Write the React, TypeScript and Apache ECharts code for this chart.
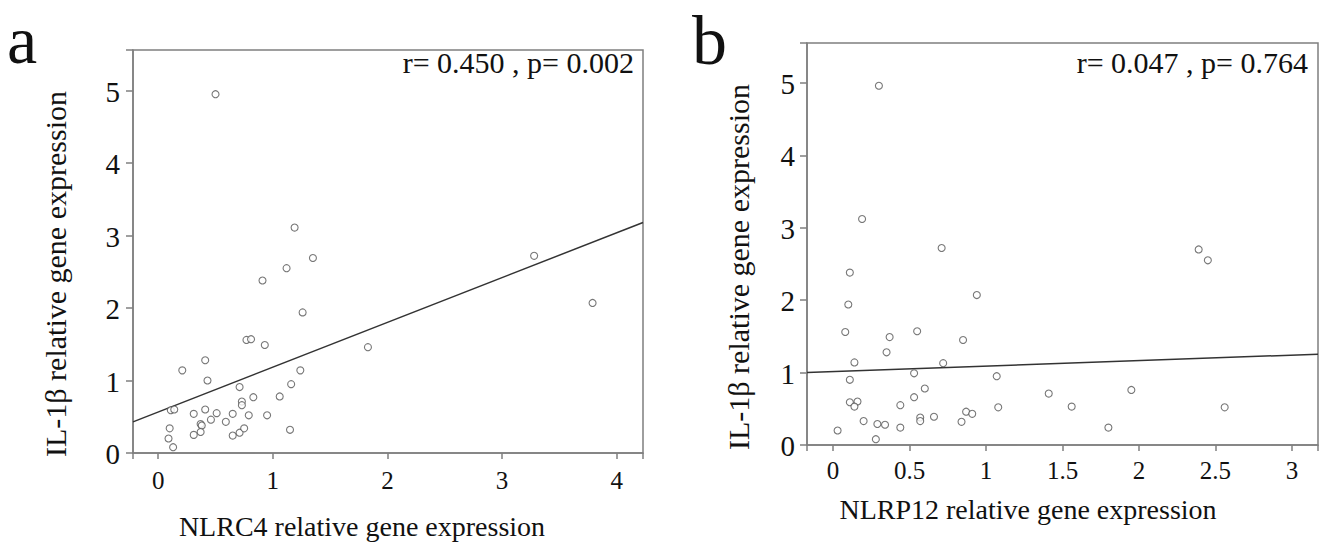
import React, { useEffect, useRef } from "react";
import * as echarts from "echarts";

// Panel a: NLRC4 vs IL-1β
const nlrc4X = [0.50, 1.19, 1.35, 1.12, 0.91, 1.26, 0.77, 0.81, 0.93, 1.83, 0.41, 0.21, 1.24, 0.43, 1.16, 0.71, 1.06, 0.83, 0.73, 0.73, 0.11, 0.14, 0.41, 0.31, 0.51, 0.65, 0.79, 0.95, 0.46, 0.59, 0.37, 0.38, 0.10, 0.37, 0.31, 0.65, 0.71, 0.75, 1.15, 0.09, 0.13, 3.28, 3.79];
const il1bA = [4.95, 3.11, 2.69, 2.55, 2.38, 1.94, 1.56, 1.57, 1.49, 1.46, 1.28, 1.14, 1.14, 1.00, 0.95, 0.91, 0.78, 0.77, 0.71, 0.66, 0.59, 0.60, 0.60, 0.54, 0.55, 0.54, 0.52, 0.52, 0.46, 0.43, 0.40, 0.38, 0.34, 0.29, 0.25, 0.24, 0.28, 0.34, 0.32, 0.20, 0.08, 2.72, 2.07];
// Panel b: NLRP12 vs IL-1β
const nlrp12X = [0.30, 0.19, 0.71, 0.11, 0.94, 0.10, 0.08, 0.55, 0.37, 0.85, 0.35, 0.14, 0.72, 0.53, 1.07, 0.11, 0.60, 0.53, 0.11, 0.16, 0.14, 0.44, 1.08, 0.66, 0.57, 0.57, 0.87, 0.91, 0.84, 0.20, 0.29, 0.34, 0.44, 0.03, 0.28, 2.39, 2.45, 1.41, 1.56, 1.95, 1.80, 2.56];
const il1bB = [4.96, 3.12, 2.72, 2.38, 2.07, 1.94, 1.56, 1.57, 1.49, 1.45, 1.28, 1.14, 1.13, 0.99, 0.95, 0.90, 0.78, 0.66, 0.59, 0.60, 0.53, 0.55, 0.52, 0.39, 0.38, 0.33, 0.46, 0.43, 0.32, 0.33, 0.29, 0.28, 0.24, 0.20, 0.08, 2.70, 2.55, 0.71, 0.53, 0.76, 0.24, 0.52];

// Fit lines (intercept, slope)
const fitA = [0.566, 0.618];
const fitB = [1.013, 0.076];

// tick values
const xTicksA = [0, 1, 2, 3, 4];
const xTicksB = [0, 0.5, 1, 1.5, 2, 2.5, 3];
const yTicks = [0, 1, 2, 3, 4, 5];

const xStepA = 1;
const xStepB = 0.5;
const yStep = 1;

const xRangeA = [-0.22, 4.23];
const xRangeB = [-0.17, 3.17];
const yRangeA = [0, 5.56];
const yRangeB = [0, 5.55];

const statsA = "r= 0.450 , p= 0.002";
const statsB = "r= 0.047 , p= 0.764";

const SERIF = "Liberation Serif";
const AXIS_COLOR = "#7f7f7f";

const GRID_A = { left: 133, top: 50, width: 510, height: 403 };
const GRID_B = { left: 807, top: 43, width: 511, height: 402 };

function App() {
  const ref = useRef<HTMLDivElement>(null);
  useEffect(() => {
    if (!ref.current) return;
    const chart = echarts.init(ref.current, null, { renderer: "svg" });
    const mkX = (gi: number, range: number[], step: number) => ({
      type: "value",
      gridIndex: gi,
      min: range[0],
      max: range[1],
      minInterval: step,
      maxInterval: step,
      axisLine: { show: true, onZero: false, lineStyle: { color: AXIS_COLOR, width: 1.5 } },
      axisTick: { show: true, length: 6, lineStyle: { color: AXIS_COLOR, width: 1.5 } },
      axisLabel: { show: false },
      splitLine: { show: false },
    });
    const mkY = (gi: number, range: number[]) => ({
      type: "value",
      gridIndex: gi,
      min: range[0],
      max: range[1],
      interval: yStep,
      axisLine: { show: true, onZero: false, lineStyle: { color: AXIS_COLOR, width: 1.5 } },
      axisTick: { show: true, length: 7, lineStyle: { color: AXIS_COLOR, width: 1.5 } },
      axisLabel: { show: false },
      splitLine: { show: false },
    });
    const pts = (xs: number[], ys: number[]) => xs.map((x, i) => [x, ys[i]]);
    const fit = (f: number[], r: number[]) => [
      [r[0], f[0] + f[1] * r[0]],
      [r[1], f[0] + f[1] * r[1]],
    ];
    const scatterStyle = {
      type: "scatter",
      symbol: "circle",
      symbolSize: 7,
      itemStyle: { color: "#fff", borderColor: "#555", borderWidth: 1.1 },
      z: 3,
    };
    const fitLine = {
      type: "line",
      symbol: "none",
      lineStyle: { color: "#333", width: 1.5 },
      z: 2,
    };
    const txt = (text: string, x: number, y: number, size: number, align: string, rot = 0) => ({
      type: "text",
      x,
      y,
      rotation: rot,
      style: {
        text,
        font: `${size}px ${SERIF}`,
        fill: "#111",
        textAlign: align,
        textVerticalAlign: "middle",
      },
    });

    // pixel position of a data value: library scale first, linear map of the same layout otherwise
    const toPx = (gi: number, x: number, y: number) => {
      try {
        const p = chart.convertToPixel({ xAxisIndex: gi, yAxisIndex: gi } as any, [x, y]) as any;
        if (p && isFinite(p[0]) && isFinite(p[1])) return [p[0], p[1]];
      } catch (e) {
        /* fall through */
      }
      const g = gi === 0 ? GRID_A : GRID_B;
      const xr = gi === 0 ? xRangeA : xRangeB;
      const yr = gi === 0 ? yRangeA : yRangeB;
      return [
        g.left + ((x - xr[0]) / (xr[1] - xr[0])) * g.width,
        g.top + g.height - ((y - yr[0]) / (yr[1] - yr[0])) * g.height,
      ];
    };

    const baseTexts = [
      txt("a", 7, 40, 68, "left"),
      txt("b", 692, 40, 70, "left"),
      txt(statsA, 634, 62, 30, "right"),
      txt(statsB, 1308, 62, 30, "right"),
      txt("NLRC4 relative gene expression", 362, 526, 28, "center"),
      txt("NLRP12 relative gene expression", 1028, 509, 28, "center"),
      txt("IL-1β relative gene expression", 55, 274, 30, "center", Math.PI / 2),
      txt("IL-1β relative gene expression", 738, 267, 30, "center", Math.PI / 2),
    ];
    chart.setOption({
      animation: false,
      grid: [
        { ...GRID_A, show: true, borderColor: AXIS_COLOR, borderWidth: 1.5 },
        { ...GRID_B, show: true, borderColor: AXIS_COLOR, borderWidth: 1.5 },
      ],
      xAxis: [mkX(0, xRangeA, xStepA), mkX(1, xRangeB, xStepB)],
      yAxis: [mkY(0, yRangeA), mkY(1, yRangeB)],
      series: [
        { ...fitLine, xAxisIndex: 0, yAxisIndex: 0, data: fit(fitA, xRangeA) },
        { ...scatterStyle, xAxisIndex: 0, yAxisIndex: 0, data: pts(nlrc4X, il1bA) },
        { ...fitLine, xAxisIndex: 1, yAxisIndex: 1, data: fit(fitB, xRangeB) },
        { ...scatterStyle, xAxisIndex: 1, yAxisIndex: 1, data: pts(nlrp12X, il1bB) },
      ],
      graphic: baseTexts,
    });

    const labels: any[] = [];
    xTicksA.forEach((v) => {
      const p = toPx(0, v, yRangeA[0]);
      labels.push(txt(String(v), p[0], p[1] + 27, 25, "center"));
    });
    xTicksB.forEach((v) => {
      const p = toPx(1, v, yRangeB[0]);
      labels.push(txt(String(v), p[0], p[1] + 25, 25, "center"));
    });
    yTicks.forEach((v) => {
      const p = toPx(0, xRangeA[0], v);
      labels.push(txt(String(v), p[0] - 13, p[1] + 1, 29, "right"));
    });
    yTicks.forEach((v) => {
      const p = toPx(1, xRangeB[0], v);
      labels.push(txt(String(v), p[0] - 12, p[1] + 1, 29, "right"));
    });
    chart.setOption({ graphic: [...baseTexts, ...labels] });

    return () => chart.dispose();
  }, []);
  return (
    <div
      ref={ref}
      style={{ position: "absolute", left: 0, top: 0, width: 1321, height: 543, background: "#fff" }}
    />
  );
}

export default App;
